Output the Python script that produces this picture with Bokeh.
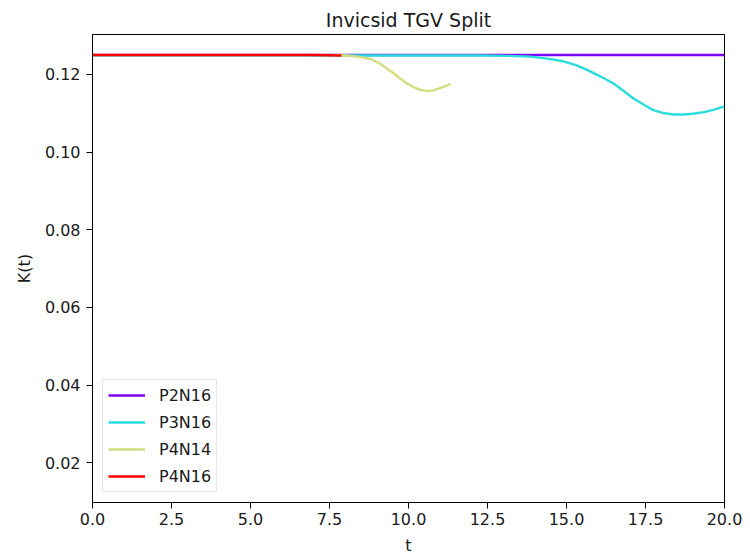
from bokeh.plotting import figure
from bokeh.models import Range1d, FixedTicker, PrintfTickFormatter, Legend, LegendItem
from bokeh.embed import file_html
from bokeh.resources import INLINE

# ---- data ----
title_text = "Invicsid TGV Split"
labels = ["P2N16", "P3N16", "P4N14", "P4N16"]
colors = ["#8000ff", "#2adddd", "#d4dd80", "#ff0000"]

t_p2n16 = [0.0, 5.0, 10.0, 15.0, 20.0]
k_p2n16 = [0.1250, 0.1250, 0.1250, 0.1250, 0.1250]

t_p3n16 = [0.0, 5.0, 10.0, 12.3, 13.2, 13.86, 14.4, 14.9, 15.3, 15.65, 16.1, 16.5,
           16.8, 17.12, 17.45, 17.75, 18.05, 18.38, 18.7, 19.0, 19.35, 19.65, 20.0]
k_p3n16 = [0.1249, 0.1249, 0.1249, 0.1249, 0.1248, 0.1246, 0.1241, 0.1234, 0.1224,
           0.1212, 0.1194, 0.1176, 0.1158, 0.1138, 0.1122, 0.1108, 0.1101, 0.1097,
           0.1097, 0.1099, 0.1103, 0.1109, 0.1118]

t_p4n14 = [0.0, 5.0, 7.5, 8.0, 8.4, 8.8, 9.1, 9.32, 9.55, 9.75, 9.95, 10.17, 10.4,
           10.6, 10.8, 11.0, 11.2, 11.33]
k_p4n14 = [0.1250, 0.1250, 0.1250, 0.1249, 0.1246, 0.1240, 0.1228, 0.1215, 0.1202,
           0.1189, 0.1177, 0.1167, 0.1160, 0.1157, 0.1159, 0.1165, 0.1171, 0.1176]

t_p4n16 = [0.0, 2.5, 5.0, 7.0, 7.88]
k_p4n16 = [0.1250, 0.1250, 0.1250, 0.1250, 0.1249]

x_ticks = [0.0, 2.5, 5.0, 7.5, 10.0, 12.5, 15.0, 17.5, 20.0]
y_ticks = [0.02, 0.04, 0.06, 0.08, 0.10, 0.12]

series_t = [t_p2n16, t_p3n16, t_p4n14, t_p4n16]
series_k = [k_p2n16, k_p3n16, k_p4n14, k_p4n16]

FONT = "DejaVu Sans"
TXT = "#1a1a1a"

p = figure(width=750, height=557, output_backend="svg", toolbar_location=None,
           x_range=Range1d(0, 20), y_range=Range1d(0.00974, 0.1303),
           min_border_left=92, min_border_right=26, min_border_top=34,
           min_border_bottom=53, title=title_text)

p.title.text_font = FONT
p.title.text_font_size = "19px"
p.title.text_font_style = "normal"
p.title.align = "center"
p.title.text_color = TXT
p.title.offset = 0
p.title.standoff = 8

p.xgrid.visible = False
p.ygrid.visible = False
p.outline_line_color = "black"
p.outline_line_width = 1
p.outline_line_alpha = 1.0
p.background_fill_color = "white"
p.border_fill_color = "white"

for ax, ticks, fmt, lab in ((p.xaxis[0], x_ticks, "%.1f", "t"), (p.yaxis[0], y_ticks, "%.2f", "K(t)")):
    ax.ticker = FixedTicker(ticks=ticks)
    ax.formatter = PrintfTickFormatter(format=fmt)
    ax.axis_label = lab
    ax.axis_label_text_font = FONT
    ax.axis_label_text_font_size = "16px"
    ax.axis_label_text_font_style = "normal"
    ax.axis_label_text_color = TXT
    ax.major_label_text_font = FONT
    ax.major_label_text_font_size = "16px"
    ax.major_label_text_color = TXT
    ax.axis_line_color = "black"
    ax.major_tick_line_color = "black"
    ax.major_tick_out = 6
    ax.major_tick_in = 0
    ax.minor_tick_line_color = None

p.xaxis[0].major_label_standoff = 4
p.yaxis[0].major_label_standoff = 6
p.xaxis[0].axis_label_standoff = 8
p.yaxis[0].axis_label_standoff = 8

items = []
for lab, col, tt, kk in zip(labels, colors, series_t, series_k):
    r = p.line(tt, kk, line_color=col, line_width=2.4)
    items.append(LegendItem(label=lab, renderers=[r]))

legend = Legend(items=items, location="bottom_left")
legend.margin = 10
legend.padding = 5
legend.spacing = 7
legend.glyph_width = 37
legend.glyph_height = 20
legend.label_height = 20
legend.label_standoff = 14
legend.label_text_font = FONT
legend.label_text_font_size = "16px"
legend.label_text_color = TXT
legend.border_line_color = "#cccccc"
legend.border_line_width = 1
legend.background_fill_alpha = 0.8
p.add_layout(legend, "center")

open("out.html", "w").write(file_html(p, INLINE))
